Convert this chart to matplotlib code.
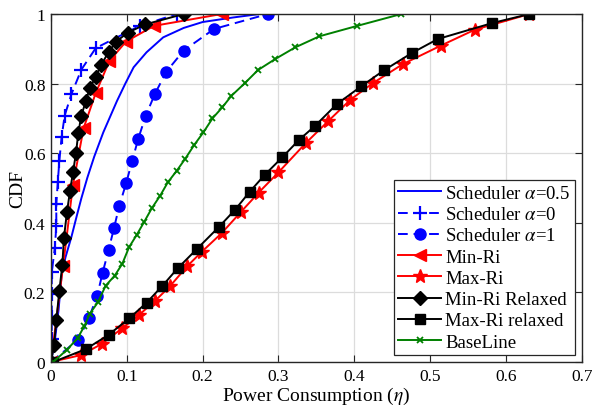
import numpy as np
import matplotlib
matplotlib.use("Agg")
import matplotlib.pyplot as plt

plt.rcParams['font.family'] = ['Liberation Serif', 'DejaVu Serif']
plt.rcParams['mathtext.fontset'] = 'stix'

# Scheduler alpha=0.5 (solid, no markers)
sch05_x = [0, 0.005, 0.010, 0.014, 0.019, 0.027, 0.034, 0.040, 0.048, 0.057, 0.069,
           0.079, 0.087, 0.098, 0.109, 0.126, 0.148, 0.175, 0.200, 0.240, 0.275]
sch05_y = [0, 0.06, 0.15, 0.25, 0.30, 0.36, 0.42, 0.47, 0.53, 0.59, 0.66,
           0.71, 0.75, 0.80, 0.847, 0.89, 0.933, 0.96, 0.977, 0.99, 1.0]

# Scheduler alpha=0
sch0_x = [0, 0.001, 0.001, 0.001, 0.001, 0.005, 0.007, 0.007, 0.009, 0.011, 0.014,
          0.018, 0.027, 0.040, 0.059, 0.117, 0.166]
sch0_y = [0, 0.066, 0.128, 0.195, 0.258, 0.327, 0.390, 0.454, 0.518, 0.578, 0.646,
          0.708, 0.770, 0.840, 0.902, 0.966, 1.0]

# Scheduler alpha=1
sch1_x = [0, 0.036, 0.050, 0.061, 0.068, 0.076, 0.083, 0.090, 0.099, 0.107, 0.115,
          0.125, 0.137, 0.152, 0.175, 0.215, 0.286]
sch1_y = [0, 0.064, 0.126, 0.191, 0.256, 0.322, 0.384, 0.448, 0.513, 0.577, 0.641,
          0.708, 0.770, 0.834, 0.895, 0.957, 1.0]

# Min-Ri
minri_x = [0, 0.016, 0.029, 0.043, 0.059, 0.077, 0.099, 0.136, 0.225]
minri_y = [0, 0.277, 0.509, 0.672, 0.773, 0.865, 0.921, 0.966, 1.0]

# Max-Ri
maxri_x = [0, 0.040, 0.067, 0.094, 0.116, 0.137, 0.157, 0.180, 0.199, 0.225, 0.250,
           0.274, 0.300, 0.336, 0.366, 0.395, 0.425, 0.464, 0.514, 0.559, 0.631]
maxri_y = [0, 0.020, 0.052, 0.097, 0.135, 0.175, 0.218, 0.276, 0.317, 0.370, 0.430,
           0.487, 0.545, 0.629, 0.693, 0.754, 0.802, 0.856, 0.909, 0.955, 1.0]

# Min-Ri Relaxed
minrel_x = [0, 0.004, 0.007, 0.011, 0.015, 0.017, 0.021, 0.025, 0.029, 0.033, 0.036,
            0.040, 0.046, 0.051, 0.059, 0.066, 0.076, 0.086, 0.101, 0.124, 0.175]
minrel_y = [0, 0.048, 0.120, 0.204, 0.280, 0.355, 0.430, 0.490, 0.545, 0.601, 0.658,
            0.708, 0.750, 0.786, 0.820, 0.853, 0.891, 0.921, 0.946, 0.970, 1.0]

# Max-Ri relaxed
maxrel_x = [0.003, 0.046, 0.076, 0.103, 0.126, 0.147, 0.167, 0.193, 0.221, 0.243, 0.262,
            0.282, 0.305, 0.327, 0.348, 0.377, 0.409, 0.439, 0.476, 0.510, 0.582, 0.631]
maxrel_y = [0, 0.037, 0.078, 0.125, 0.170, 0.219, 0.269, 0.326, 0.387, 0.438, 0.489,
            0.538, 0.588, 0.638, 0.678, 0.741, 0.792, 0.838, 0.888, 0.928, 0.974, 1.0]

# BaseLine
base_x = [0.003, 0.021, 0.035, 0.044, 0.051, 0.062, 0.072, 0.084, 0.094, 0.103, 0.113,
          0.123, 0.133, 0.144, 0.154, 0.166, 0.177, 0.189, 0.201, 0.213, 0.226,
          0.238, 0.256, 0.273, 0.296, 0.322, 0.354, 0.404, 0.462]
base_y = [0, 0.035, 0.068, 0.103, 0.138, 0.172, 0.219, 0.248, 0.282, 0.330, 0.365,
          0.403, 0.442, 0.478, 0.516, 0.550, 0.584, 0.624, 0.660, 0.700, 0.732,
          0.765, 0.802, 0.839, 0.871, 0.904, 0.936, 0.966, 1.0]

fig = plt.figure(figsize=(5.93, 4.06), dpi=100)
ax = fig.add_axes([0.086, 0.106, 0.895, 0.857])

green = '#008000'
ax.plot(sch05_x, sch05_y, '-', color='b', lw=1.4, label=r'Scheduler $\alpha$=0.5')
ax.plot(sch0_x, sch0_y, '--', color='b', lw=1.4, marker='+', ms=10, mew=1.6,
        dashes=(5, 3), label=r'Scheduler $\alpha$=0')
ax.plot(sch1_x, sch1_y, '--', color='b', lw=1.4, marker='o', ms=8,
        dashes=(5, 3), label=r'Scheduler $\alpha$=1')
ax.plot(minri_x, minri_y, '-', color='r', lw=1.4, marker='<', ms=9, label='Min-Ri')
ax.plot(maxri_x, maxri_y, '-', color='r', lw=1.4, marker='*', ms=10, label='Max-Ri')
ax.plot(minrel_x, minrel_y, '-', color='k', lw=1.4, marker='D', ms=7, label='Min-Ri Relaxed')
ax.plot(maxrel_x, maxrel_y, '-', color='k', lw=1.4, marker='s', ms=7, label='Max-Ri relaxed')
ax.plot(base_x, base_y, '-', color=green, lw=1.4, marker='x', ms=5, mew=1.3, label='BaseLine')

ax.set_xlim(0, 0.7)
ax.set_ylim(0, 1)
ax.set_xticks(np.arange(0, 0.71, 0.1))
ax.set_yticks(np.arange(0, 1.01, 0.2))
ax.set_xticklabels(['0', '0.1', '0.2', '0.3', '0.4', '0.5', '0.6', '0.7'])
ax.set_yticklabels(['0', '0.2', '0.4', '0.6', '0.8', '1'])
ax.grid(True, color='#dcdcdc', lw=0.9)
ax.set_axisbelow(True)
ax.tick_params(direction='in', top=True, right=True, labelsize=12.5, length=5,
               color='#262626', pad=4)
for s in ax.spines.values():
    s.set_color('#262626')
    s.set_linewidth(1.0)

ax.set_xlabel(r'Power Consumption ($\eta$)', fontsize=14, labelpad=1)
ax.set_ylabel('CDF', fontsize=14, labelpad=-2)

leg = ax.legend(loc='lower right', fontsize=13.5, handlelength=2.3, handletextpad=0.2,
                labelspacing=0.22, borderpad=0.25, borderaxespad=0.35, fancybox=False,
                framealpha=1, edgecolor='#262626')
leg.get_frame().set_linewidth(0.9)

fig.savefig('out.png', dpi=100)
